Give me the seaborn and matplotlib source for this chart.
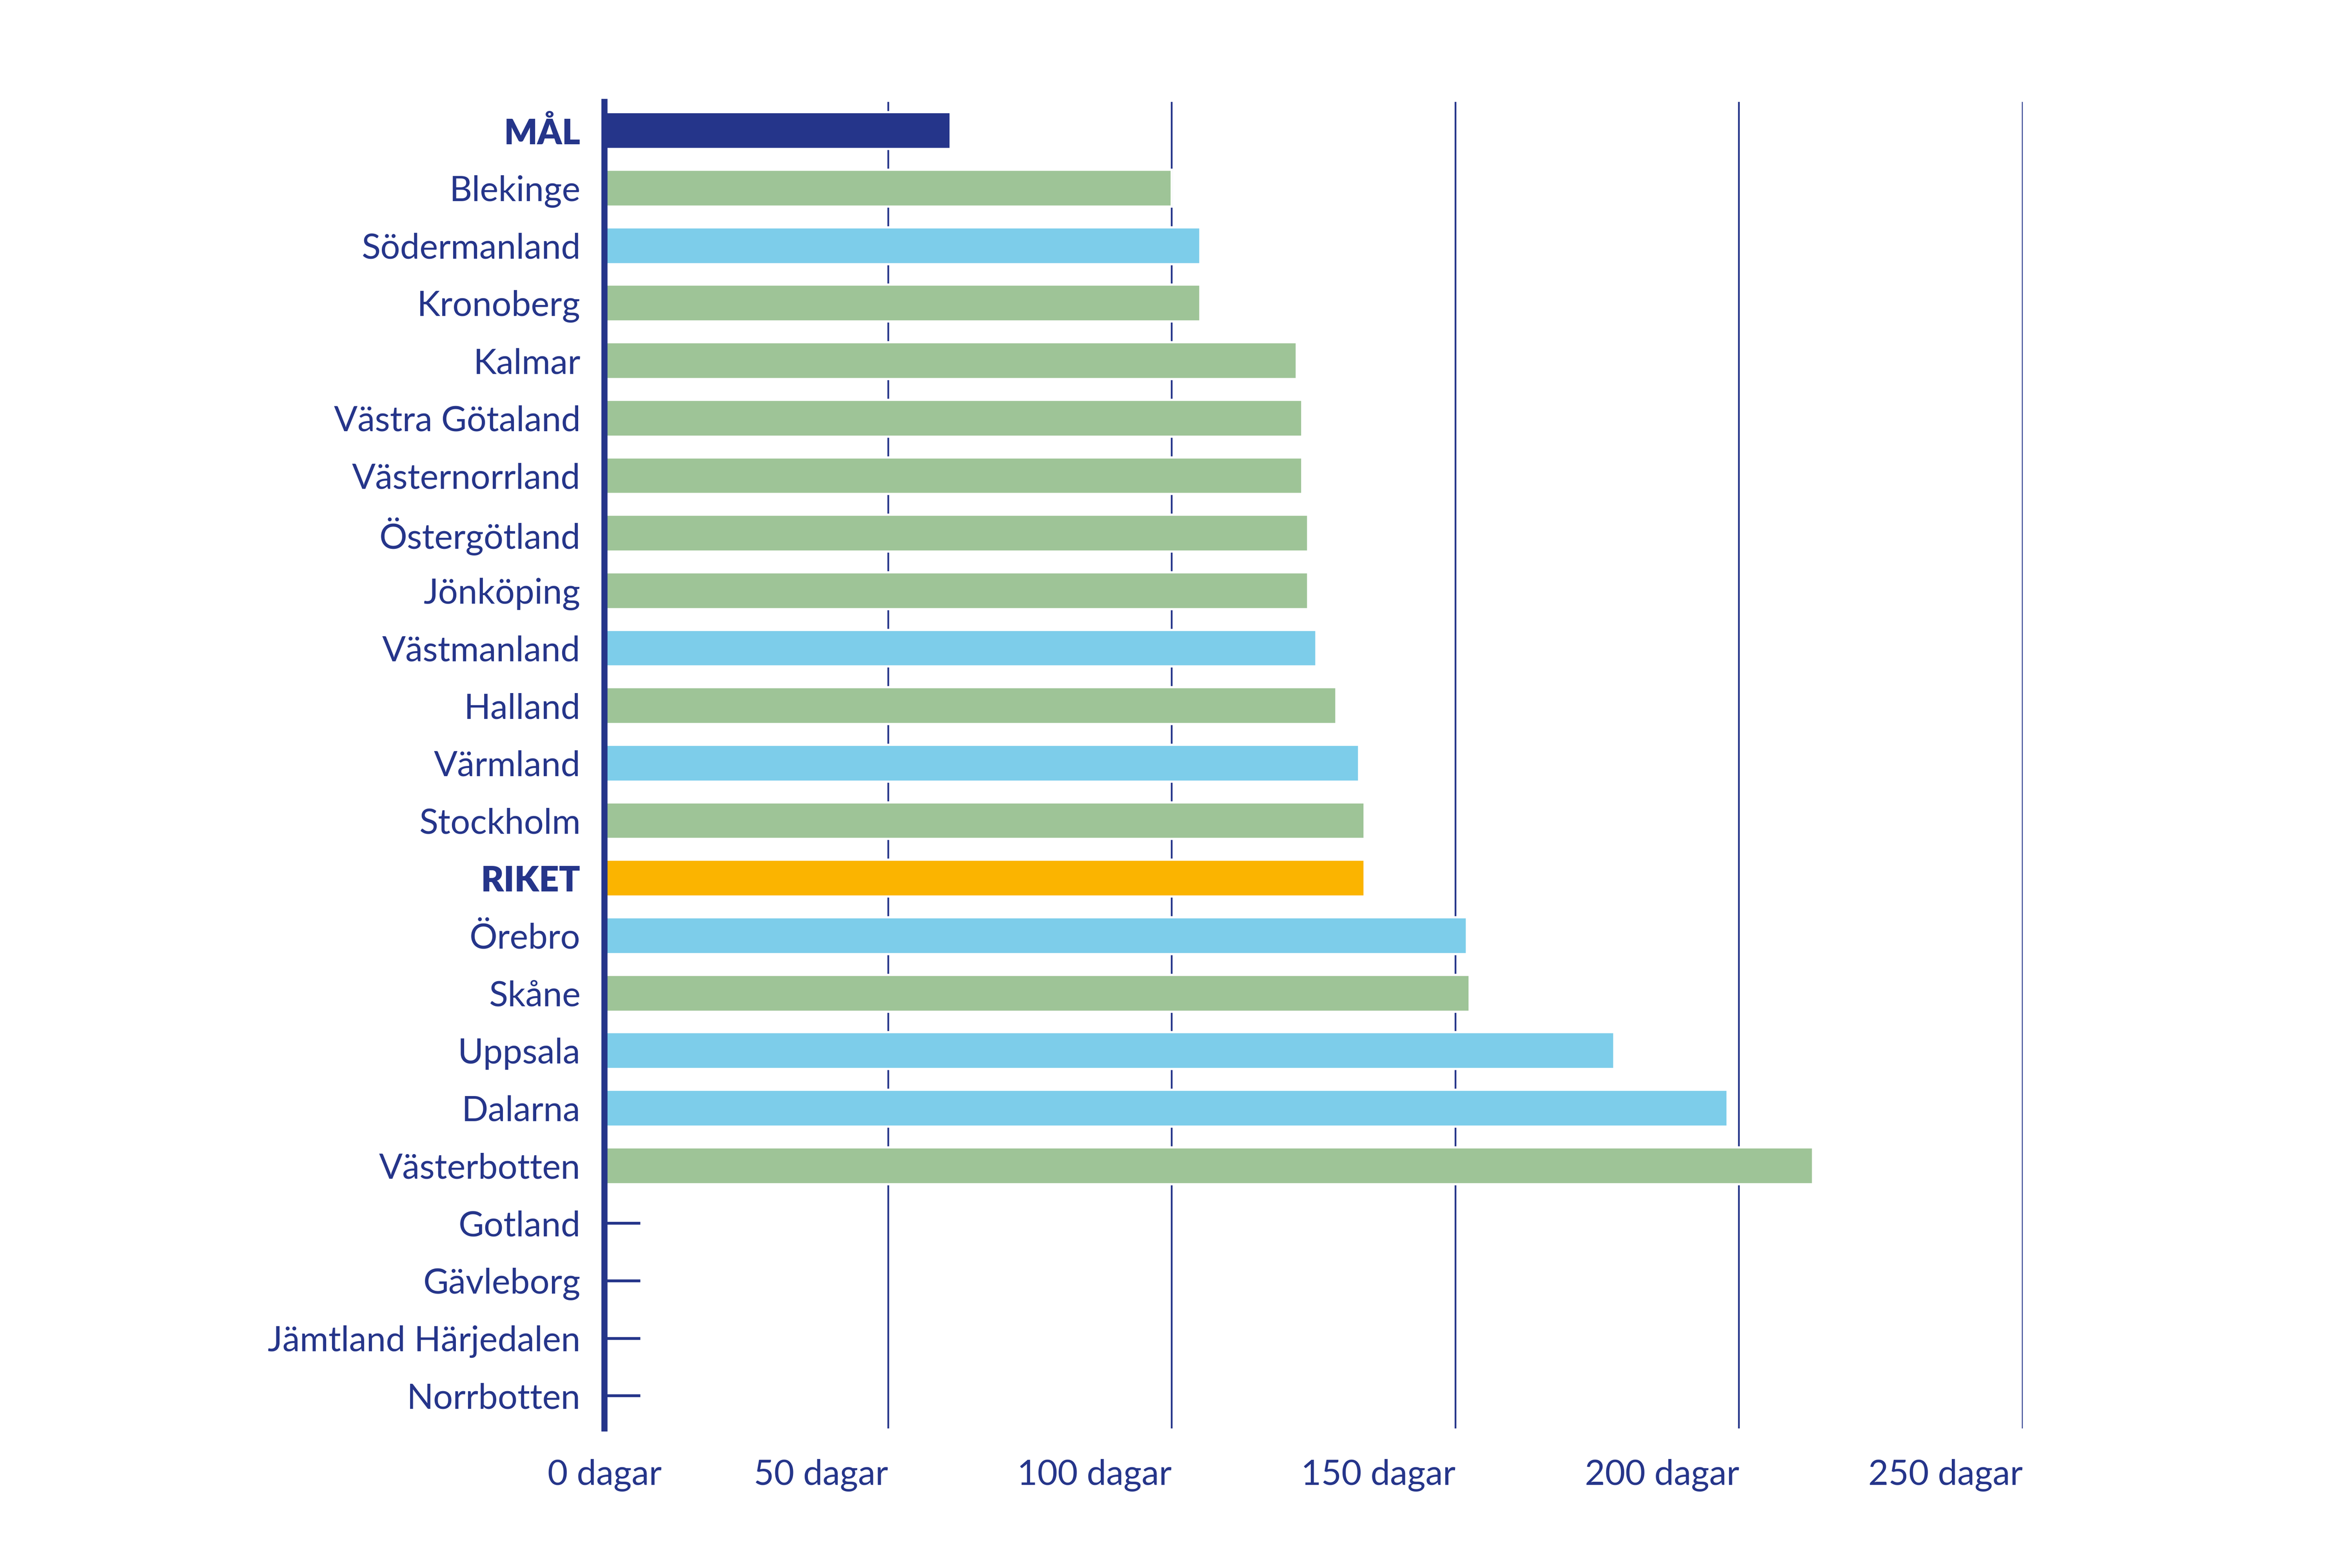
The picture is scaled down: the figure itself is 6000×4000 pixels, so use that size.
import numpy as np
import pandas as pd
import matplotlib
matplotlib.use("Agg")
import matplotlib.pyplot as plt
import seaborn as sns

# Väntetid i dagar per region
regions = ["MÅL", "Blekinge", "Södermanland", "Kronoberg", "Kalmar",
           "Västra Götaland", "Västernorrland", "Östergötland", "Jönköping",
           "Västmanland", "Halland", "Värmland", "Stockholm", "RIKET",
           "Örebro", "Skåne", "Uppsala", "Dalarna", "Västerbotten",
           "Gotland", "Gävleborg", "Jämtland Härjedalen", "Norrbotten"]
days = [61, 100, 105, 105, 122, 123, 123, 124, 124, 125.5, 129, 133, 134, 134,
        152, 152.5, 178, 198, 213, np.nan, np.nan, np.nan, np.nan]
groups = ["mal", "gron", "bla", "gron", "gron", "gron", "gron", "gron", "gron",
          "bla", "gron", "bla", "gron", "riket", "bla", "gron", "bla", "bla",
          "gron", "saknas", "saknas", "saknas", "saknas"]
x_ticks = [0, 50, 100, 150, 200, 250]
x_tick_labels = ["0 dagar", "50 dagar", "100 dagar", "150 dagar", "200 dagar", "250 dagar"]
bold_labels = ["MÅL", "RIKET"]

navy = "#25358a"
palette = {"mal": navy, "gron": "#9ec497", "bla": "#7dcdea",
           "riket": "#fbb400", "saknas": "#ffffff"}

df = pd.DataFrame({"region": regions, "dagar": days, "grupp": groups})

sns.set_style("white")
plt.rcParams["font.family"] = ["Lato", "DejaVu Sans"]

fig = plt.figure(figsize=(15, 10), dpi=400)
ax = fig.add_axes([0.257, 0.089, 0.603, 0.846])

sns.barplot(data=df, x="dagar", y="region", hue="grupp", order=regions,
            palette=palette, saturation=1, dodge=False, width=0.64,
            errorbar=None, legend=False, ax=ax, zorder=2)

# Short dash for regions without data
missing = df.index[df["dagar"].isna()]
ax.hlines(missing, 0, 6.3, color=navy, linewidth=1.3, zorder=3)

ax.set_xlim(0, 250)
ax.set_ylim(len(regions) - 0.43, -0.5)
ax.set_xticks(x_ticks)
ax.set_xticklabels(x_tick_labels)
ax.grid(axis="x", color=navy, linewidth=0.8)
ax.grid(axis="y", visible=False)
ax.set_axisbelow(True)

for s in ["top", "right", "bottom"]:
    ax.spines[s].set_visible(False)
ax.spines["left"].set_color(navy)
ax.spines["left"].set_linewidth(2.8)
ax.spines["left"].set_zorder(4)

ax.set_xlabel("")
ax.set_ylabel("")
ax.tick_params(axis="y", length=0, pad=11, labelsize=16, labelcolor=navy)
ax.tick_params(axis="x", length=0, pad=14, labelsize=16, labelcolor=navy)

for lbl in ax.get_yticklabels():
    if lbl.get_text() in bold_labels:
        lbl.set_fontweight("heavy")
    else:
        lbl.set_fontweight("normal")

for i, lbl in enumerate(ax.get_xticklabels()):
    lbl.set_fontweight("normal")
    lbl.set_ha("center" if i == 0 else "right")

fig.savefig("out.png", dpi=400, facecolor="white")
plt.close(fig)
